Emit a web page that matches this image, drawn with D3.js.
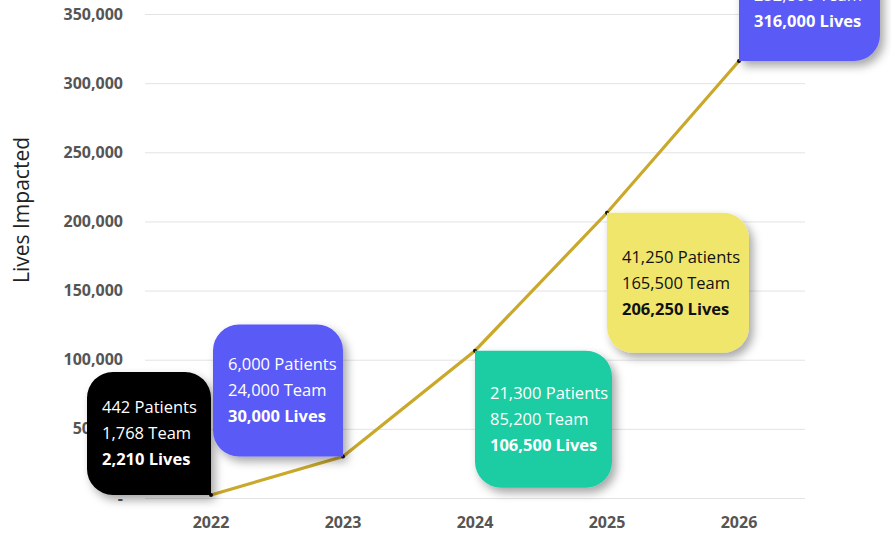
<!DOCTYPE html>
<html>
<head>
<meta charset="utf-8">
<script src="https://cdn.jsdelivr.net/npm/d3@7/dist/d3.min.js"></script>
<style>
  html, body { margin: 0; padding: 0; background: #fff; }
  svg { display: block; font-family: "Open Sans", sans-serif; }
</style>
</head>
<body>
<svg id="chart" width="891" height="535"></svg>
<script>
// ---- data ----
const years = ["2022", "2023", "2024", "2025", "2026"];
const patients = [442, 6000, 21300, 41250, 63200];
const team = [1768, 24000, 85200, 165500, 252800];
const lives = [2210, 30000, 106500, 206250, 316000];
const yTicks = [0, 50000, 100000, 150000, 200000, 250000, 300000, 350000];
const yTitle = "Lives Impacted";

// ---- styles / layout ----
const boxFill = ["#000000", "#5a5af7", "#1ecca2", "#f0e66c", "#5a5af7"];
const boxText = ["#ffffff", "#ffffff", "#ffffff", "#111111", "#ffffff"];
// which corner of the box sits on the data point
const boxCorner = ["br", "br", "tl", "tl", "bl"];
const boxW = [124, 130, 137, 142, 141];
const boxH = [123, 132, 137, 140, 132];

const svg = d3.select("#chart");
const x = d3.scaleBand().domain(years).range([145, 805]);
const y = d3.scaleLinear().domain([0, 350000]).range([498, 14]);
const cx = d => x(d) + x.bandwidth() / 2;

const defs = svg.append("defs");
const f = defs.append("filter").attr("id", "shadow")
  .attr("x", "-30%").attr("y", "-30%").attr("width", "160%").attr("height", "160%");
f.append("feDropShadow").attr("dx", 4).attr("dy", 5).attr("stdDeviation", 5)
  .attr("flood-color", "#000").attr("flood-opacity", 0.35);

// grid
const yAxis = d3.axisLeft(y).tickValues(yTicks).tickSize(-(805 - 145)).tickFormat(d => d === 0 ? "-" : d3.format(",")(d));
const gy = svg.append("g").attr("transform", "translate(145,0)").call(yAxis);
gy.select(".domain").remove();
gy.selectAll(".tick line").attr("stroke", "#e3e3e3").attr("stroke-width", 1);
gy.selectAll(".tick text").attr("x", -22).attr("fill", "#555").attr("font-size", 16).attr("font-weight", 700)
  .attr("font-family", "'Open Sans', sans-serif");

const xAxis = d3.axisBottom(x).tickSize(0).tickPadding(0);
const gx = svg.append("g").attr("transform", "translate(0,498)").call(xAxis);
gx.select(".domain").remove();
gx.selectAll(".tick text").attr("dy", 0).attr("y", 30).attr("fill", "#555").attr("font-size", 16).attr("font-weight", 700)
  .attr("font-family", "'Open Sans', sans-serif");

svg.append("text").attr("transform", "translate(29,210) rotate(-90)")
  .attr("text-anchor", "middle").attr("font-size", 21).attr("fill", "#222").text(yTitle);

// line
const line = d3.line().x((d, i) => cx(years[i])).y(d => y(d));
svg.append("path").datum(lives).attr("d", line).attr("fill", "none")
  .attr("stroke", "#c9a82a").attr("stroke-width", 3.2);
svg.selectAll("circle.pt").data(lives).join("circle")
  .attr("cx", (d, i) => cx(years[i])).attr("cy", d => y(d)).attr("r", 2).attr("fill", "#111");

// boxes
function boxPath(x0, y0, w, h, r, sq) {
  const rtl = sq === "tl" ? 0 : r, rtr = sq === "tr" ? 0 : r, rbr = sq === "br" ? 0 : r, rbl = sq === "bl" ? 0 : r;
  return `M${x0 + rtl},${y0} H${x0 + w - rtr} A${rtr},${rtr} 0 0 1 ${x0 + w},${y0 + rtr}` +
    ` V${y0 + h - rbr} A${rbr},${rbr} 0 0 1 ${x0 + w - rbr},${y0 + h}` +
    ` H${x0 + rbl} A${rbl},${rbl} 0 0 1 ${x0},${y0 + h - rbl}` +
    ` V${y0 + rtl} A${rtl},${rtl} 0 0 1 ${x0 + rtl},${y0} Z`;
}
const fmt = d3.format(",");
years.forEach((yr, i) => {
  const px = cx(yr), py = y(lives[i]);
  const w = boxW[i], h = boxH[i], c = boxCorner[i];
  const x0 = c[1] === "r" ? px - w : px;
  const y0 = c[0] === "b" ? py - h : py;
  const g = svg.append("g");
  g.append("path").attr("d", boxPath(x0, y0, w, h, 26, c)).attr("fill", boxFill[i]).attr("filter", "url(#shadow)");
  const lines = [fmt(patients[i]) + " Patients", fmt(team[i]) + " Team", fmt(lives[i]) + " Lives"];
  const top = y0 + (h - 52) / 2;
  lines.forEach((t, j) => {
    g.append("text").attr("x", x0 + 15).attr("y", top + j * 26).attr("dy", "0.35em")
      .attr("font-size", 16.5).attr("font-weight", j === 2 ? 700 : 400).attr("fill", boxText[i]).text(t);
  });
});
</script>
</body>
</html>
